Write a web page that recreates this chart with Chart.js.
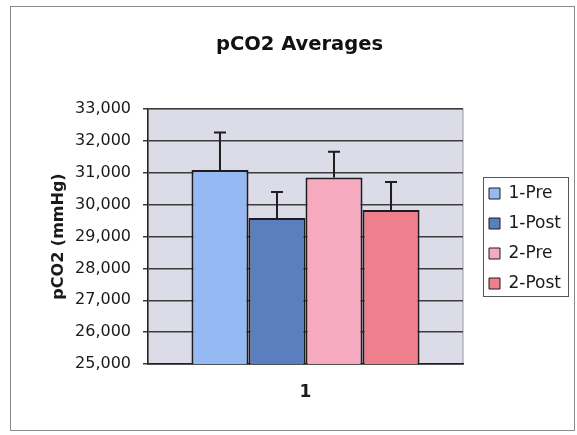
<!DOCTYPE html>
<html>
<head>
<meta charset="utf-8">
<script src="https://cdn.jsdelivr.net/npm/chart.js@4.4.0/dist/chart.umd.min.js"></script>
<style>
  html, body { margin: 0; padding: 0; background: #fff; }
  canvas { display: block; }
</style>
</head>
<body>
<canvas id="pco2-chart" width="577" height="435"></canvas>
<script>
const categories = ['1']
const seriesNames = ['1-Pre', '1-Post', '2-Pre', '2-Post']
const meanValues = [31090, 29580, 30850, 29830]
const plusErrors = [1170, 820, 810, 880]
const yTickMin = 25000
const yTickMax = 33000
const yTickStep = 1000

const barColors = ['#95b9f2', '#5b7fbe', '#f6aac0', '#f07f8d']
const fontFamily = "'DejaVu Sans', Verdana, sans-serif"

// shaded plot area + outer frame
const plotBackground = {
  id: 'plotBackground',
  beforeDraw: chart => {
    const { ctx, chartArea: a } = chart
    ctx.save()
    ctx.strokeStyle = '#8a8a8a'
    ctx.lineWidth = 1
    ctx.strokeRect(10.5, 6.5, 564, 424)
    ctx.fillStyle = '#dcdbe8'
    ctx.fillRect(a.left, a.top, a.width, a.height)
    ctx.strokeStyle = '#9a9a9a'
    ctx.strokeRect(a.left, a.top, a.width, a.height)
    ctx.restore()
  },
}

// plus-only error bars, like the Excel original
const errorBars = {
  id: 'errorBars',
  afterDatasetsDraw: chart => {
    const { ctx, scales: { y } } = chart
    ctx.save()
    ctx.strokeStyle = '#1e1e1e'
    ctx.lineWidth = 2
    chart.data.datasets.forEach((ds, i) => {
      const bar = chart.getDatasetMeta(i).data[0]
      const top = y.getPixelForValue(ds.data[0] + plusErrors[i])
      ctx.beginPath()
      ctx.moveTo(bar.x, bar.y)
      ctx.lineTo(bar.x, top)
      ctx.moveTo(bar.x - 6, top)
      ctx.lineTo(bar.x + 6, top)
      ctx.stroke()
    })
    ctx.restore()
  },
}

// small nudges so the legend and title sit where the original has them
const layoutNudge = {
  id: 'layoutNudge',
  afterLayout: chart => {
    const lg = chart.legend
    lg.left += 13
    lg.right += 13
    lg.top += 2
    lg.bottom += 2
    const t = chart.titleBlock
    t.left -= 6
    t.right -= 6
  },
}

const legendFrame = {
  id: 'legendFrame',
  afterDraw: chart => {
    const boxes = chart.legend.legendHitBoxes
    if (!boxes || !boxes.length) return
    const { ctx } = chart
    const first = boxes[0]
    const last = boxes[boxes.length - 1]
    const left = Math.round(first.left - 6) + 0.5
    const right = Math.round(Math.max(...boxes.map(b => b.left + b.width)) + 7) + 0.5
    const top = Math.round(first.top - 8) + 0.5
    const bottom = Math.round(last.top + last.height + 4) + 0.5
    ctx.save()
    ctx.strokeStyle = '#555'
    ctx.lineWidth = 1
    ctx.strokeRect(left, top, right - left, bottom - top)
    ctx.restore()
  },
}

const datasets = seriesNames.map((name, i) => ({
  label: name,
  data: [meanValues[i]],
  backgroundColor: barColors[i],
  borderColor: '#1c1c1c',
  borderWidth: 2,
  borderSkipped: false,
}))

const ctx = document.getElementById('pco2-chart').getContext('2d')
const pco2Chart = new Chart(ctx, {
  type: 'bar',
  data: { labels: categories, datasets },
  plugins: [plotBackground, errorBars, layoutNudge, legendFrame],
  options: {
    responsive: false,
    animation: false,
    layout: { padding: { left: 12, right: 24, top: 6, bottom: 14.6 } },
    datasets: {
      bar: { categoryPercentage: 0.724, barPercentage: 1 },
    },
    plugins: {
      title: {
        display: true,
        text: 'pCO2 Averages',
        fullSize: false,
        color: '#111',
        font: { family: fontFamily, size: 19.5, weight: 'bold' },
        padding: { top: 27, bottom: 52.6 },
      },
      legend: {
        position: 'right',
        fullSize: false,
        maxWidth: 90,
        labels: {
          boxWidth: 11,
          boxHeight: 11,
          padding: 13,
          color: '#1a1a1a',
          font: { family: fontFamily, size: 17 },
          generateLabels: chart =>
            Chart.defaults.plugins.legend.labels.generateLabels(chart).map(item => ({ ...item, lineWidth: 1 })),
        },
      },
      tooltip: { enabled: false },
    },
    scales: {
      x: {
        grid: { display: false, drawTicks: false },
        border: { color: '#222', width: 1.5 },
        ticks: {
          padding: 18,
          color: '#1a1a1a',
          font: { family: fontFamily, size: 17, weight: 'bold' },
        },
      },
      y: {
        min: yTickMin,
        max: yTickMax,
        afterFit: scale => { scale.width = 136 },
        grid: { color: '#3c3c3c', lineWidth: 1.5, tickLength: 5 },
        border: { color: '#222', width: 1.5 },
        ticks: {
          stepSize: yTickStep,
          padding: 12,
          color: '#1a1a1a',
          font: { family: fontFamily, size: 16 },
          callback: value => value.toLocaleString('en-US'),
        },
        title: {
          display: true,
          text: 'pCO2 (mmHg)',
          color: '#1a1a1a',
          font: { family: fontFamily, size: 16, weight: 'bold' },
          padding: { top: 37, bottom: 6 },
        },
      },
    },
  },
})
</script>
</body>
</html>
